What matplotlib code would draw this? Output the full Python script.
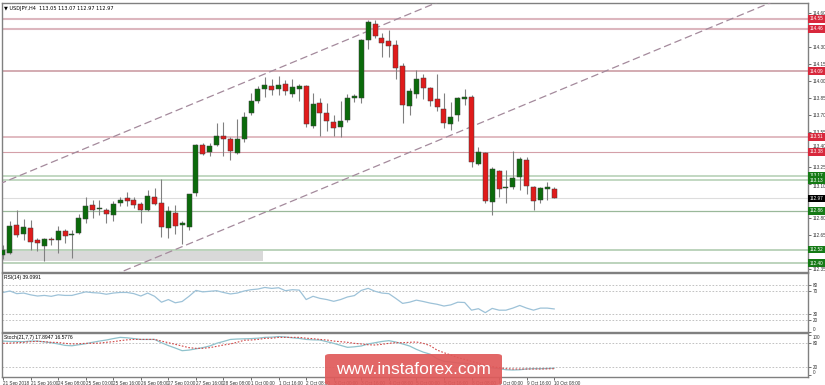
import numpy as np
import matplotlib
matplotlib.use("Agg")
import matplotlib.pyplot as plt
from matplotlib.patches import FancyBboxPatch

plt.rcParams['font.family'] = ['Liberation Sans', 'DejaVu Sans']

# USDJPY H4, 21 Sep 2018 00:00 .. 10 Oct 2018 08:00
opens = [112.47, 112.49, 112.74, 112.66, 112.71, 112.60, 112.55, 112.61, 112.60, 112.68,
         112.65, 112.67, 112.79, 112.91, 112.88, 112.87, 112.82, 112.93, 112.97, 112.96,
         112.92, 112.87, 112.98, 112.93, 112.71, 112.84, 112.74, 112.72, 113.02, 113.44,
         113.38, 113.44, 113.52, 113.49, 113.37, 113.49, 113.72, 113.83, 113.93, 113.96,
         113.93, 113.98, 113.89, 113.93, 113.96, 113.61, 113.81, 113.72, 113.64, 113.60,
         113.66, 113.85, 113.85, 114.36, 114.50, 114.38, 114.35, 114.32, 114.13, 113.78,
         113.89, 114.03, 113.94, 113.84, 113.76, 113.62, 113.70, 113.84, 113.86, 113.27,
         113.37, 112.94, 113.21, 113.06, 113.07, 113.16, 113.31, 113.07, 112.96, 113.05,
         113.05]
highs = [112.56, 112.77, 112.87, 112.79, 112.78, 112.62, 112.62, 112.63, 112.73, 112.70,
         112.69, 112.83, 112.98, 112.96, 112.96, 112.89, 112.95, 112.98, 113.03, 112.98,
         112.94, 113.04, 113.06, 113.14, 112.90, 112.91, 112.77, 113.01, 113.45, 113.46,
         113.46, 113.63, 113.64, 113.51, 113.67, 113.73, 113.90, 113.96, 114.04, 114.02,
         114.05, 114.01, 114.02, 113.98, 113.97, 113.90, 113.85, 113.81, 113.70, 113.83,
         113.89, 113.89, 114.37, 114.54, 114.54, 114.42, 114.45, 114.36, 114.16, 113.94,
         114.10, 114.06, 113.95, 114.06, 113.90, 113.82, 113.86, 113.93, 113.88, 113.42,
         113.38, 113.25, 113.22, 113.22, 113.39, 113.33, 113.33, 113.08, 113.07, 113.11,
         113.07]
lows = [112.44, 112.48, 112.63, 112.60, 112.52, 112.51, 112.42, 112.56, 112.49, 112.58,
        112.45, 112.66, 112.75, 112.80, 112.82, 112.75, 112.77, 112.90, 112.90, 112.89,
        112.75, 112.86, 112.91, 112.63, 112.62, 112.66, 112.57, 112.69, 112.99, 113.35,
        113.34, 113.43, 113.34, 113.31, 113.36, 113.47, 113.70, 113.81, 113.86, 113.88,
        113.88, 113.88, 113.86, 113.83, 113.60, 113.59, 113.52, 113.56, 113.52, 113.51,
        113.64, 113.82, 113.81, 114.28, 114.38, 114.21, 114.21, 114.02, 113.63, 113.70,
        113.85, 113.84, 113.78, 113.74, 113.59, 113.57, 113.65, 113.79, 113.25, 113.26,
        112.93, 112.82, 112.98, 112.93, 113.05, 113.04, 113.01, 112.87, 112.93, 112.96,
        112.97]
closes = [112.52, 112.73, 112.65, 112.72, 112.59, 112.58, 112.61, 112.60, 112.68, 112.64,
          112.66, 112.80, 112.90, 112.87, 112.88, 112.83, 112.92, 112.96, 112.95, 112.91,
          112.87, 112.99, 112.92, 112.72, 112.86, 112.73, 112.75, 113.01, 113.44, 113.36,
          113.43, 113.52, 113.49, 113.39, 113.49, 113.69, 113.83, 113.93, 113.97, 113.92,
          113.97, 113.91, 113.95, 113.96, 113.62, 113.80, 113.72, 113.65, 113.59, 113.65,
          113.85, 113.87, 114.36, 114.52, 114.40, 114.34, 114.31, 114.12, 113.79, 113.91,
          114.02, 113.94, 113.83, 113.77, 113.63, 113.69, 113.85, 113.86, 113.29, 113.38,
          112.95, 113.23, 113.05, 113.06, 113.15, 113.32, 113.08, 112.95, 113.06, 113.07,
          112.97]

rsi = [67, 69.5, 65, 66, 63, 61, 62, 60.5, 63, 62,
       62, 65, 68, 66.7, 66, 64, 66, 67, 67, 65,
       61, 66, 60.5, 50.5, 55, 49.5, 51.7, 60.5, 70.5, 68,
       69, 70, 67, 64.5, 66, 69.5, 71.7, 72.8, 75.5, 73.9,
       75, 70, 71.7, 71, 55, 60.5, 57, 55, 52, 55,
       59.4, 61.7, 70.5, 74, 69, 66, 65, 57, 48.5, 50.5,
       54, 51.7, 49, 47, 44, 46, 50.5, 50, 37, 39.5,
       32.8, 40, 37, 37, 40.5, 45, 40.5, 37, 40.5, 40.5,
       39.0991]
stoch_main = [84, 83, 83, 82.5, 84, 84, 82, 80, 77, 73.5,
              72.5, 75, 77.5, 81, 84, 86.6, 90, 93, 92, 90,
              88, 88, 88, 80, 73, 67, 60.5, 62, 65, 68,
              72, 78.5, 83, 88, 89, 89.5, 90, 91, 93, 93.5,
              95, 94, 92, 90.5, 88, 87, 86.6, 82.5, 78.5, 73.5,
              68.7, 70, 72, 77, 80, 83, 85, 81.7, 77, 72,
              63.8, 57, 52, 41, 34.5, 33, 30.5, 29.7, 28, 23,
              20, 18.5, 16.6, 14, 13.4, 14, 15.8, 16.6, 16.6, 17,
              17.8947]
stoch_signal = [78.5, 79, 80, 81, 82.5, 83.3, 82.5, 81, 80.5, 78.5,
                77, 77.5, 78.5, 78.5, 79, 81, 82.5, 85, 87, 88,
                88, 88, 88, 84, 80, 76, 72, 67.9, 66.3, 66.3,
                68, 71, 74.4, 77, 81, 86, 86.6, 88, 90.6, 91,
                93, 93, 93, 93, 91, 89.8, 88, 86.6, 84, 82.5,
                81, 78.5, 77, 75, 74.4, 76, 78.5, 80, 80, 81,
                81.7, 78.5, 72.7, 62, 55.6, 50, 43.5, 39.4, 34.5, 29.7,
                25.6, 21.5, 19, 16.6, 15.8, 15.8, 15.8, 15.8, 15.8, 16.2,
                16.5776]

red_levels = [114.55, 114.46, 114.09, 113.51, 113.38]
green_levels = [113.17, 113.13, 112.86, 112.52, 112.40]
last_price = 112.97
zone = (112.42, 112.505, 37.7)          # low, high, last bar of the grey box

# trend channel: two points per line (bar, price)
chan_upper = [(0, 113.11), (50, 114.366)]
chan_lower = [(20, 112.395), (70, 113.651)]

# price scale ticks (the ones hidden behind the price boxes are left out)
price_ticks = [112.35, 112.65, 112.80, 113.10, 113.25, 113.40, 113.55, 113.70,
               113.85, 114.00, 114.15, 114.30, 114.60]

tick_bars = list(range(0, 81, 4))
tick_labels = ["21 Sep 2018", "21 Sep 16:00", "24 Sep 08:00", "25 Sep 00:00", "25 Sep 16:00",
               "26 Sep 08:00", "27 Sep 00:00", "27 Sep 16:00", "28 Sep 08:00", "1 Oct 00:00",
               "1 Oct 16:00", "2 Oct 08:00", "3 Oct 00:00", "3 Oct 16:00", "4 Oct 08:00",
               "5 Oct 00:00", "5 Oct 16:00", "8 Oct 08:00", "9 Oct 00:00", "9 Oct 16:00",
               "10 Oct 08:00"]

W, H = 825, 385
fig = plt.figure(figsize=(W / 100, H / 100), dpi=100)


def box(top, bottom, left=1.5, right=808):
    return [left / W, 1 - bottom / H, (right - left) / W, (bottom - top) / H]


ax = fig.add_axes(box(3, 272))
ax_rsi = fig.add_axes(box(273, 332))
ax_st = fig.add_axes(box(333, 377))

xlim = (-0.22, 116.84)
fs = 3.3
for a in (ax, ax_rsi, ax_st):
    a.set_xlim(*xlim)
    for s in a.spines.values():
        s.set_color('#808080')
        s.set_linewidth(1.0)
    a.yaxis.tick_right()
    a.tick_params(axis='y', labelsize=fs, length=2, width=0.5, pad=1.2, colors='#333333')
    a.tick_params(axis='x', length=0)
    a.set_xticks([])

# ---- main price panel
ax.set_ylim(112.323, 114.688)
ax.set_yticks(price_ticks)
ax.yaxis.set_major_formatter(plt.FormatStrFormatter('%.2f'))
for t in ax.get_yticklabels():
    if t.get_text() == '113.40':
        t.set_va('bottom')
    elif t.get_text() == '113.10':
        t.set_va('top')

ax.fill_between([xlim[0], zone[2]], zone[0], zone[1], color='#d9d9d9', lw=0, zorder=1)

lvl_style = {114.55: ('#dcb6be', 1.5), 114.46: ('#dcb6be', 1.5), 114.09: ('#c8949c', 1.1),
             113.51: ('#d8a8b0', 1.1), 113.38: ('#d4a0a8', 0.8),
             113.17: ('#b8d2b8', 1.2), 113.13: ('#b8d2b8', 1.2), 112.86: ('#9ab89a', 0.9),
             112.52: ('#b0ccb0', 1.2), 112.40: ('#b0ccb0', 1.2)}
for p in red_levels + green_levels:
    c, lw = lvl_style[p]
    ax.axhline(p, color=c, lw=lw, zorder=2)
ax.axhline(last_price, color='#dddddd', lw=0.8, zorder=2)

for pts in (chan_upper, chan_lower):
    (x0, y0), (x1, y1) = pts
    k = (y1 - y0) / (x1 - x0)
    xs = np.array([-5, 130])
    ax.plot(xs, y0 + k * (xs - x0), color='#a48a9c', lw=0.9, ls=(0, (6, 3)), zorder=3)

x = np.arange(len(opens))
o, h, l, c = map(np.array, (opens, highs, lows, closes))
up = c >= o
ax.vlines(x, l, h, color='#808080', lw=0.8, zorder=4)
body = np.maximum(np.abs(c - o), 0.006)
ax.bar(x, body, bottom=np.minimum(o, c), width=0.72,
       color=np.where(up, '#0b6b0b', '#e01b1b'), edgecolor='#404040', lw=0.35, zorder=5)

label_kw = dict(transform=ax.get_yaxis_transform(), fontsize=fs, color='white',
                va='center', ha='left', zorder=10, clip_on=False)
for p in red_levels:
    ax.text(1.002, p, f"{p:.2f}", bbox=dict(boxstyle='square,pad=0.3', fc='#d8283c', ec='none'), **label_kw)
for p in green_levels:
    ax.text(1.002, p, f"{p:.2f}", bbox=dict(boxstyle='square,pad=0.3', fc='#157a15', ec='none'), **label_kw)
ax.text(1.002, last_price, f"{last_price:.2f}", bbox=dict(boxstyle='square,pad=0.3', fc='black', ec='none'), **label_kw)

ax.text(0.003, 0.988, "\u25bc USDJPY,H4  %.2f %.2f %.2f %.2f" % (opens[-1], highs[-1], lows[-1], closes[-1]),
        transform=ax.transAxes, fontsize=3.6, va='top', ha='left', family=['DejaVu Sans'])

# ---- RSI panel
ax_rsi.set_ylim(0, 100)
ax_rsi.set_yticks([0, 20, 30, 70, 80])
ax_rsi.get_yticklabels()[0].set_va('bottom')
for v in (20, 30, 70, 80):
    ax_rsi.axhline(v, color='#b8b8b8', lw=0.6, ls=(0, (2, 2)))
ax_rsi.plot(x, rsi, color='#9dc2d8', lw=0.9)
ax_rsi.text(0.003, 0.96, "RSI(14) %.4f" % rsi[-1], transform=ax_rsi.transAxes,
            fontsize=3.6, va='top', ha='left')

# ---- Stochastic panel
ax_st.set_ylim(-3.7, 103.7)
ax_st.set_yticks([0, 20, 80, 100])
ax_st.get_yticklabels()[-1].set_va('top')
ax_st.get_yticklabels()[0].set_va('bottom')
for v in (20, 80):
    ax_st.axhline(v, color='#b8b8b8', lw=0.6, ls=(0, (2, 2)))
ax_st.plot(x, stoch_main, color='#8fc2cc', lw=0.9)
ax_st.plot(x, stoch_signal, color='#d04848', lw=0.8, ls=(0, (1.5, 1.5)))
ax_st.text(0.003, 0.95, "Stoch(21,7,7) %.4f %.4f" % (stoch_main[-1], stoch_signal[-1]),
           transform=ax_st.transAxes, fontsize=3.6, va='top', ha='left')
ax_st.set_xticks(tick_bars)
ax_st.set_xticklabels(tick_labels, fontsize=fs, ha='left')
ax_st.tick_params(axis='x', length=2, width=0.5, pad=0.8, colors='#333333')

# ---- watermark
wm = FancyBboxPatch((325 / W, 0), 177 / W, 31 / H, transform=fig.transFigure,
                    boxstyle='round,pad=0,rounding_size=0.006', fc='#e05a5a', ec='none',
                    alpha=0.92, zorder=20)
fig.patches.append(wm)
fig.text(413.5 / W, 15.5 / H, "www.instaforex.com", color='white', fontsize=12.5,
         ha='center', va='center', zorder=21)

fig.savefig("out.png", dpi=100)
